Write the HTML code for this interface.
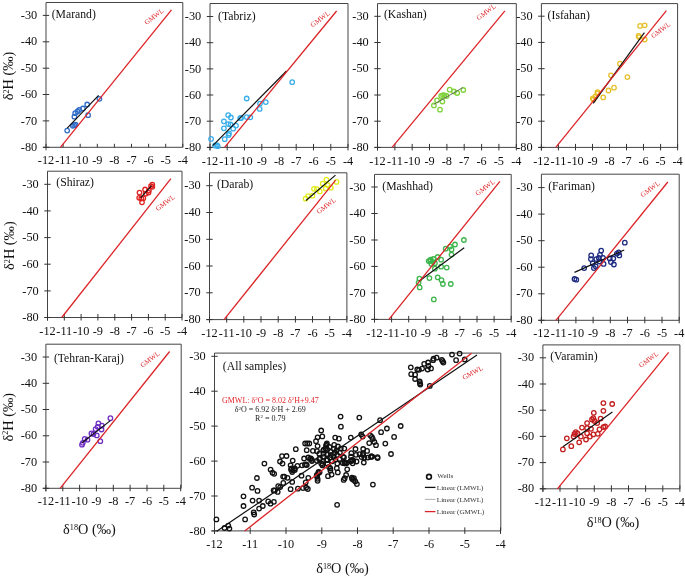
<!DOCTYPE html>
<html><head><meta charset="utf-8"><style>
html,body{margin:0;padding:0;background:#fff;}
svg{display:block;will-change:transform;}
text{font-family:"Liberation Serif", serif;}
.t{font-size:12.3px;fill:#111;}
.tt{font-size:11.7px;fill:#111;}
.g{font-size:7px;fill:#dc2428;}
.ax{font-size:14.3px;fill:#111;}
.e{font-size:8px;fill:#222;}
.r{fill:#e3262b;}
.l{font-size:7.1px;fill:#333;}
.a{fill:none;stroke:#444;stroke-width:1;}
.k{fill:none;stroke:#333;stroke-width:1;}
</style></head><body>
<svg width="685" height="578" viewBox="0 0 685 578">
<path d="M46,2.5H182.8V147.3M46,2.5V150.3M43,147.3H182.8" class="a"/>
<path d="M42.8,15.4H49.2M42.8,41.8H49.2M42.8,68.2H49.2M42.8,94.5H49.2M42.8,120.9H49.2M42.8,147.3H49.2M46,143.8V147.3M63.1,143.8V147.3M80.2,143.8V147.3M97.3,143.8V147.3M114.4,143.8V147.3M131.5,143.8V147.3M148.6,143.8V147.3M165.7,143.8V147.3M182.8,143.8V147.3" class="k"/>
<text x="37.2" y="19" text-anchor="end" class="t">-30</text>
<text x="37.2" y="45.4" text-anchor="end" class="t">-40</text>
<text x="37.2" y="71.8" text-anchor="end" class="t">-50</text>
<text x="37.2" y="98.1" text-anchor="end" class="t">-60</text>
<text x="37.2" y="124.5" text-anchor="end" class="t">-70</text>
<text x="37.2" y="150.9" text-anchor="end" class="t">-80</text>
<text x="46" y="164.4" text-anchor="middle" class="t">-12</text>
<text x="63.1" y="164.4" text-anchor="middle" class="t">-11</text>
<text x="80.2" y="164.4" text-anchor="middle" class="t">-10</text>
<text x="97.3" y="164.4" text-anchor="middle" class="t">-9</text>
<text x="114.4" y="164.4" text-anchor="middle" class="t">-8</text>
<text x="131.5" y="164.4" text-anchor="middle" class="t">-7</text>
<text x="148.6" y="164.4" text-anchor="middle" class="t">-6</text>
<text x="165.7" y="164.4" text-anchor="middle" class="t">-5</text>
<text x="182.8" y="164.4" text-anchor="middle" class="t">-4</text>
<text x="51.7" y="18.1" class="tt">(Marand)</text>
<path d="M210,3.5H348V147.4M210,3.5V150.4M207,147.4H348" class="a"/>
<path d="M206.8,16.5H213.2M206.8,42.7H213.2M206.8,68.9H213.2M206.8,95H213.2M206.8,121.2H213.2M206.8,147.4H213.2M210,143.9V150.4M227.2,143.9V150.4M244.5,143.9V150.4M261.8,143.9V150.4M279,143.9V150.4M296.2,143.9V150.4M313.5,143.9V150.4M330.8,143.9V150.4M348,143.9V150.4" class="k"/>
<text x="201.2" y="20.1" text-anchor="end" class="t">-30</text>
<text x="201.2" y="46.3" text-anchor="end" class="t">-40</text>
<text x="201.2" y="72.5" text-anchor="end" class="t">-50</text>
<text x="201.2" y="98.6" text-anchor="end" class="t">-60</text>
<text x="201.2" y="124.8" text-anchor="end" class="t">-70</text>
<text x="201.2" y="151" text-anchor="end" class="t">-80</text>
<text x="210" y="164.5" text-anchor="middle" class="t">-12</text>
<text x="227.2" y="164.5" text-anchor="middle" class="t">-11</text>
<text x="244.5" y="164.5" text-anchor="middle" class="t">-10</text>
<text x="261.8" y="164.5" text-anchor="middle" class="t">-9</text>
<text x="279" y="164.5" text-anchor="middle" class="t">-8</text>
<text x="296.2" y="164.5" text-anchor="middle" class="t">-7</text>
<text x="313.5" y="164.5" text-anchor="middle" class="t">-6</text>
<text x="330.8" y="164.5" text-anchor="middle" class="t">-5</text>
<text x="348" y="164.5" text-anchor="middle" class="t">-4</text>
<text x="218.1" y="20.0" class="tt">(Tabriz)</text>
<path d="M377.5,3.6H516.3V147.4M377.5,3.6V150.4M374.5,147.4H516.3" class="a"/>
<path d="M374.3,16.3H380.7M374.3,42.5H380.7M374.3,68.7H380.7M374.3,95H380.7M374.3,121.2H380.7M374.3,147.4H380.7M377.5,143.9V150.4M394.9,143.9V150.4M412.2,143.9V150.4M429.5,143.9V150.4M446.9,143.9V150.4M464.2,143.9V150.4M481.6,143.9V150.4M498.9,143.9V150.4M516.3,143.9V150.4" class="k"/>
<text x="368.7" y="19.9" text-anchor="end" class="t">-30</text>
<text x="368.7" y="46.1" text-anchor="end" class="t">-40</text>
<text x="368.7" y="72.3" text-anchor="end" class="t">-50</text>
<text x="368.7" y="98.6" text-anchor="end" class="t">-60</text>
<text x="368.7" y="124.8" text-anchor="end" class="t">-70</text>
<text x="368.7" y="151" text-anchor="end" class="t">-80</text>
<text x="377.5" y="164.5" text-anchor="middle" class="t">-12</text>
<text x="394.9" y="164.5" text-anchor="middle" class="t">-11</text>
<text x="412.2" y="164.5" text-anchor="middle" class="t">-10</text>
<text x="429.5" y="164.5" text-anchor="middle" class="t">-9</text>
<text x="446.9" y="164.5" text-anchor="middle" class="t">-8</text>
<text x="464.2" y="164.5" text-anchor="middle" class="t">-7</text>
<text x="481.6" y="164.5" text-anchor="middle" class="t">-6</text>
<text x="498.9" y="164.5" text-anchor="middle" class="t">-5</text>
<text x="516.3" y="164.5" text-anchor="middle" class="t">-4</text>
<text x="383.9" y="18.3" class="tt">(Kashan)</text>
<path d="M541.4,3.6H677.6V147.4M541.4,3.6V150.4M538.4,147.4H677.6" class="a"/>
<path d="M538.2,16.2H544.6M538.2,42.4H544.6M538.2,68.7H544.6M538.2,94.9H544.6M538.2,121.2H544.6M538.2,147.4H544.6M541.4,143.9V150.4M558.4,143.9V150.4M575.5,143.9V150.4M592.5,143.9V150.4M609.5,143.9V150.4M626.5,143.9V150.4M643.5,143.9V150.4M660.6,143.9V150.4M677.6,143.9V150.4" class="k"/>
<text x="532.6" y="19.8" text-anchor="end" class="t">-30</text>
<text x="532.6" y="46" text-anchor="end" class="t">-40</text>
<text x="532.6" y="72.3" text-anchor="end" class="t">-50</text>
<text x="532.6" y="98.5" text-anchor="end" class="t">-60</text>
<text x="532.6" y="124.8" text-anchor="end" class="t">-70</text>
<text x="532.6" y="151" text-anchor="end" class="t">-80</text>
<text x="541.4" y="164.5" text-anchor="middle" class="t">-12</text>
<text x="558.4" y="164.5" text-anchor="middle" class="t">-11</text>
<text x="575.5" y="164.5" text-anchor="middle" class="t">-10</text>
<text x="592.5" y="164.5" text-anchor="middle" class="t">-9</text>
<text x="609.5" y="164.5" text-anchor="middle" class="t">-8</text>
<text x="626.5" y="164.5" text-anchor="middle" class="t">-7</text>
<text x="643.5" y="164.5" text-anchor="middle" class="t">-6</text>
<text x="660.6" y="164.5" text-anchor="middle" class="t">-5</text>
<text x="677.6" y="164.5" text-anchor="middle" class="t">-4</text>
<text x="547.6" y="19.1" class="tt">(Isfahan)</text>
<path d="M47.5,171.2H182V317.5M47.5,171.2V320.5M44.5,317.5H182" class="a"/>
<path d="M44.3,184.3H50.7M44.3,210.9H50.7M44.3,237.6H50.7M44.3,264.2H50.7M44.3,290.9H50.7M44.3,317.5H50.7M47.5,314V320.5M64.3,314V320.5M81.1,314V320.5M97.9,314V320.5M114.8,314V320.5M131.6,314V320.5M148.4,314V320.5M165.2,314V320.5M182,314V320.5" class="k"/>
<text x="38.7" y="187.9" text-anchor="end" class="t">-30</text>
<text x="38.7" y="214.5" text-anchor="end" class="t">-40</text>
<text x="38.7" y="241.2" text-anchor="end" class="t">-50</text>
<text x="38.7" y="267.8" text-anchor="end" class="t">-60</text>
<text x="38.7" y="294.5" text-anchor="end" class="t">-70</text>
<text x="38.7" y="321.1" text-anchor="end" class="t">-80</text>
<text x="47.5" y="334.6" text-anchor="middle" class="t">-12</text>
<text x="64.3" y="334.6" text-anchor="middle" class="t">-11</text>
<text x="81.1" y="334.6" text-anchor="middle" class="t">-10</text>
<text x="97.9" y="334.6" text-anchor="middle" class="t">-9</text>
<text x="114.8" y="334.6" text-anchor="middle" class="t">-8</text>
<text x="131.6" y="334.6" text-anchor="middle" class="t">-7</text>
<text x="148.4" y="334.6" text-anchor="middle" class="t">-6</text>
<text x="165.2" y="334.6" text-anchor="middle" class="t">-5</text>
<text x="182" y="334.6" text-anchor="middle" class="t">-4</text>
<text x="56.3" y="186.3" class="tt">(Shiraz)</text>
<path d="M209.5,172.8H346.9V319.6M209.5,172.8V322.6M206.5,319.6H346.9" class="a"/>
<path d="M206.3,185.7H212.7M206.3,212.5H212.7M206.3,239.3H212.7M206.3,266H212.7M206.3,292.8H212.7M206.3,319.6H212.7M209.5,316.1V322.6M226.7,316.1V322.6M243.8,316.1V322.6M261,316.1V322.6M278.2,316.1V322.6M295.4,316.1V322.6M312.5,316.1V322.6M329.7,316.1V322.6M346.9,316.1V322.6" class="k"/>
<text x="200.7" y="189.3" text-anchor="end" class="t">-30</text>
<text x="200.7" y="216.1" text-anchor="end" class="t">-40</text>
<text x="200.7" y="242.9" text-anchor="end" class="t">-50</text>
<text x="200.7" y="269.6" text-anchor="end" class="t">-60</text>
<text x="200.7" y="296.4" text-anchor="end" class="t">-70</text>
<text x="200.7" y="323.2" text-anchor="end" class="t">-80</text>
<text x="209.5" y="336.7" text-anchor="middle" class="t">-12</text>
<text x="226.7" y="336.7" text-anchor="middle" class="t">-11</text>
<text x="243.8" y="336.7" text-anchor="middle" class="t">-10</text>
<text x="261" y="336.7" text-anchor="middle" class="t">-9</text>
<text x="278.2" y="336.7" text-anchor="middle" class="t">-8</text>
<text x="295.4" y="336.7" text-anchor="middle" class="t">-7</text>
<text x="312.5" y="336.7" text-anchor="middle" class="t">-6</text>
<text x="329.7" y="336.7" text-anchor="middle" class="t">-5</text>
<text x="346.9" y="336.7" text-anchor="middle" class="t">-4</text>
<text x="216.9" y="188.3" class="tt">(Darab)</text>
<path d="M374.5,174.4H511.2V319.4M374.5,174.4V322.4M371.5,319.4H511.2" class="a"/>
<path d="M371.3,187H377.7M371.3,213.5H377.7M371.3,240H377.7M371.3,266.4H377.7M371.3,292.9H377.7M371.3,319.4H377.7M374.5,315.9V322.4M391.6,315.9V322.4M408.7,315.9V322.4M425.8,315.9V322.4M442.9,315.9V322.4M459.9,315.9V322.4M477,315.9V322.4M494.1,315.9V322.4M511.2,315.9V322.4" class="k"/>
<text x="365.7" y="190.6" text-anchor="end" class="t">-30</text>
<text x="365.7" y="217.1" text-anchor="end" class="t">-40</text>
<text x="365.7" y="243.6" text-anchor="end" class="t">-50</text>
<text x="365.7" y="270" text-anchor="end" class="t">-60</text>
<text x="365.7" y="296.5" text-anchor="end" class="t">-70</text>
<text x="365.7" y="323" text-anchor="end" class="t">-80</text>
<text x="374.5" y="336.5" text-anchor="middle" class="t">-12</text>
<text x="391.6" y="336.5" text-anchor="middle" class="t">-11</text>
<text x="408.7" y="336.5" text-anchor="middle" class="t">-10</text>
<text x="425.8" y="336.5" text-anchor="middle" class="t">-9</text>
<text x="442.9" y="336.5" text-anchor="middle" class="t">-8</text>
<text x="459.9" y="336.5" text-anchor="middle" class="t">-7</text>
<text x="477" y="336.5" text-anchor="middle" class="t">-6</text>
<text x="494.1" y="336.5" text-anchor="middle" class="t">-5</text>
<text x="511.2" y="336.5" text-anchor="middle" class="t">-4</text>
<text x="382.3" y="189.7" class="tt">(Mashhad)</text>
<path d="M541.4,174.2H679.2V320.3M541.4,174.2V323.3M538.4,320.3H679.2" class="a"/>
<path d="M538.2,187.6H544.6M538.2,214.1H544.6M538.2,240.7H544.6M538.2,267.2H544.6M538.2,293.8H544.6M538.2,320.3H544.6M541.4,316.8V323.3M558.6,316.8V323.3M575.9,316.8V323.3M593.1,316.8V323.3M610.3,316.8V323.3M627.5,316.8V323.3M644.8,316.8V323.3M662,316.8V323.3M679.2,316.8V323.3" class="k"/>
<text x="532.6" y="191.2" text-anchor="end" class="t">-30</text>
<text x="532.6" y="217.7" text-anchor="end" class="t">-40</text>
<text x="532.6" y="244.3" text-anchor="end" class="t">-50</text>
<text x="532.6" y="270.8" text-anchor="end" class="t">-60</text>
<text x="532.6" y="297.4" text-anchor="end" class="t">-70</text>
<text x="532.6" y="323.9" text-anchor="end" class="t">-80</text>
<text x="541.4" y="337.4" text-anchor="middle" class="t">-12</text>
<text x="558.6" y="337.4" text-anchor="middle" class="t">-11</text>
<text x="575.9" y="337.4" text-anchor="middle" class="t">-10</text>
<text x="593.1" y="337.4" text-anchor="middle" class="t">-9</text>
<text x="610.3" y="337.4" text-anchor="middle" class="t">-8</text>
<text x="627.5" y="337.4" text-anchor="middle" class="t">-7</text>
<text x="644.8" y="337.4" text-anchor="middle" class="t">-6</text>
<text x="662" y="337.4" text-anchor="middle" class="t">-5</text>
<text x="679.2" y="337.4" text-anchor="middle" class="t">-4</text>
<text x="548.2" y="189.7" class="tt">(Fariman)</text>
<path d="M45.9,344.2H181.2V488.3M45.9,344.2V491.3M42.9,488.3H181.2" class="a"/>
<path d="M42.7,357H49.1M42.7,383.3H49.1M42.7,409.5H49.1M42.7,435.8H49.1M42.7,462H49.1M42.7,488.3H49.1M45.9,484.8V491.3M62.8,484.8V491.3M79.6,484.8V491.3M96.4,484.8V491.3M113.3,484.8V491.3M130.1,484.8V491.3M147,484.8V491.3M163.8,484.8V491.3M180.7,484.8V491.3" class="k"/>
<text x="37.1" y="360.6" text-anchor="end" class="t">-30</text>
<text x="37.1" y="386.9" text-anchor="end" class="t">-40</text>
<text x="37.1" y="413.1" text-anchor="end" class="t">-50</text>
<text x="37.1" y="439.4" text-anchor="end" class="t">-60</text>
<text x="37.1" y="465.6" text-anchor="end" class="t">-70</text>
<text x="37.1" y="491.9" text-anchor="end" class="t">-80</text>
<text x="45.9" y="505.4" text-anchor="middle" class="t">-12</text>
<text x="62.8" y="505.4" text-anchor="middle" class="t">-11</text>
<text x="79.6" y="505.4" text-anchor="middle" class="t">-10</text>
<text x="96.4" y="505.4" text-anchor="middle" class="t">-9</text>
<text x="113.3" y="505.4" text-anchor="middle" class="t">-8</text>
<text x="130.1" y="505.4" text-anchor="middle" class="t">-7</text>
<text x="147" y="505.4" text-anchor="middle" class="t">-6</text>
<text x="163.8" y="505.4" text-anchor="middle" class="t">-5</text>
<text x="180.7" y="505.4" text-anchor="middle" class="t">-4</text>
<text x="53.9" y="361.7" class="tt">(Tehran-Karaj)</text>
<path d="M214.5,353.1H500.8V530.9M214.5,353.1V533.9M211.5,530.9H500.8" class="a"/>
<path d="M211.3,356.3H217.7M211.3,391.2H217.7M211.3,426.1H217.7M211.3,461.1H217.7M211.3,496H217.7M211.3,530.9H217.7M214.5,527.4V533.9M250.2,527.4V533.9M286,527.4V533.9M321.8,527.4V533.9M357.5,527.4V533.9M393.2,527.4V533.9M429,527.4V533.9M464.8,527.4V533.9M500.5,527.4V533.9" class="k"/>
<text x="205.7" y="359.9" text-anchor="end" class="t">-30</text>
<text x="205.7" y="394.8" text-anchor="end" class="t">-40</text>
<text x="205.7" y="429.7" text-anchor="end" class="t">-50</text>
<text x="205.7" y="464.7" text-anchor="end" class="t">-60</text>
<text x="205.7" y="499.6" text-anchor="end" class="t">-70</text>
<text x="205.7" y="534.5" text-anchor="end" class="t">-80</text>
<text x="214.5" y="548" text-anchor="middle" class="t">-12</text>
<text x="250.2" y="548" text-anchor="middle" class="t">-11</text>
<text x="286" y="548" text-anchor="middle" class="t">-10</text>
<text x="321.8" y="548" text-anchor="middle" class="t">-9</text>
<text x="357.5" y="548" text-anchor="middle" class="t">-8</text>
<text x="393.2" y="548" text-anchor="middle" class="t">-7</text>
<text x="429" y="548" text-anchor="middle" class="t">-6</text>
<text x="464.8" y="548" text-anchor="middle" class="t">-5</text>
<text x="500.5" y="548" text-anchor="middle" class="t">-4</text>
<text x="222.8" y="370.3" class="tt">(All samples)</text>
<path d="M542.9,344.9H679.9V488.8M542.9,344.9V491.8M539.9,488.8H679.9" class="a"/>
<path d="M539.7,357.8H546.1M539.7,384H546.1M539.7,410.2H546.1M539.7,436.4H546.1M539.7,462.6H546.1M539.7,488.8H546.1M542.9,485.3V491.8M560,485.3V491.8M577.1,485.3V491.8M594.3,485.3V491.8M611.4,485.3V491.8M628.5,485.3V491.8M645.6,485.3V491.8M662.8,485.3V491.8M679.9,485.3V491.8" class="k"/>
<text x="534.1" y="361.4" text-anchor="end" class="t">-30</text>
<text x="534.1" y="387.6" text-anchor="end" class="t">-40</text>
<text x="534.1" y="413.8" text-anchor="end" class="t">-50</text>
<text x="534.1" y="440" text-anchor="end" class="t">-60</text>
<text x="534.1" y="466.2" text-anchor="end" class="t">-70</text>
<text x="534.1" y="492.4" text-anchor="end" class="t">-80</text>
<text x="542.9" y="505.9" text-anchor="middle" class="t">-12</text>
<text x="560" y="505.9" text-anchor="middle" class="t">-11</text>
<text x="577.1" y="505.9" text-anchor="middle" class="t">-10</text>
<text x="594.3" y="505.9" text-anchor="middle" class="t">-9</text>
<text x="611.4" y="505.9" text-anchor="middle" class="t">-8</text>
<text x="628.5" y="505.9" text-anchor="middle" class="t">-7</text>
<text x="645.6" y="505.9" text-anchor="middle" class="t">-6</text>
<text x="662.8" y="505.9" text-anchor="middle" class="t">-5</text>
<text x="679.9" y="505.9" text-anchor="middle" class="t">-4</text>
<text x="550.2" y="359.8" class="tt">(Varamin)</text>
<g fill="none" stroke="#2f6cc8" stroke-width="1.3"><circle cx="67.2" cy="130.6" r="2.25"/><circle cx="72.8" cy="125.8" r="2.25"/><circle cx="74.2" cy="125.2" r="2.25"/><circle cx="75.6" cy="124.6" r="2.25"/><circle cx="74.4" cy="116.7" r="2.25"/><circle cx="75.2" cy="113.2" r="2.25"/><circle cx="77.5" cy="111.5" r="2.25"/><circle cx="79.2" cy="110" r="2.25"/><circle cx="82.9" cy="108.5" r="2.25"/><circle cx="87.2" cy="104.5" r="2.25"/><circle cx="88.1" cy="115.2" r="2.25"/><circle cx="99.4" cy="98.8" r="2.25"/></g>
<g fill="none" stroke="#3aaeea" stroke-width="1.3"><circle cx="211.1" cy="138.9" r="2.25"/><circle cx="215" cy="145.5" r="2.25"/><circle cx="216.9" cy="145.1" r="2.25"/><circle cx="217.7" cy="146.2" r="2.25"/><circle cx="224.7" cy="139.2" r="2.25"/><circle cx="228.6" cy="135" r="2.25"/><circle cx="229" cy="133.4" r="2.25"/><circle cx="223.9" cy="128.3" r="2.25"/><circle cx="223.9" cy="121.3" r="2.25"/><circle cx="228.2" cy="115.1" r="2.25"/><circle cx="230.9" cy="117.5" r="2.25"/><circle cx="228.2" cy="124.1" r="2.25"/><circle cx="230.5" cy="124.5" r="2.25"/><circle cx="233.2" cy="128.7" r="2.25"/><circle cx="236" cy="125.6" r="2.25"/><circle cx="240.2" cy="118.2" r="2.25"/><circle cx="241.1" cy="117.9" r="2.25"/><circle cx="246.7" cy="117.1" r="2.25"/><circle cx="250.3" cy="117.3" r="2.25"/><circle cx="246.7" cy="98.5" r="2.25"/><circle cx="260" cy="103.6" r="2.25"/><circle cx="259.7" cy="108.9" r="2.25"/><circle cx="265.8" cy="102.1" r="2.25"/><circle cx="292.2" cy="82.2" r="2.25"/></g>
<g fill="none" stroke="#7fd23a" stroke-width="1.3"><circle cx="433.9" cy="105.4" r="2.25"/><circle cx="440" cy="109.7" r="2.25"/><circle cx="437" cy="100.3" r="2.25"/><circle cx="442.4" cy="101.5" r="2.25"/><circle cx="441.2" cy="96" r="2.25"/><circle cx="443" cy="95.1" r="2.25"/><circle cx="444.5" cy="95.4" r="2.25"/><circle cx="446.6" cy="96" r="2.25"/><circle cx="449.7" cy="89.7" r="2.25"/><circle cx="453.9" cy="91.5" r="2.25"/><circle cx="457.2" cy="93" r="2.25"/><circle cx="463.3" cy="90" r="2.25"/></g>
<g fill="none" stroke="#e6c02a" stroke-width="1.3"><circle cx="640.1" cy="25.9" r="2.25"/><circle cx="644.7" cy="25.3" r="2.25"/><circle cx="638.6" cy="35.9" r="2.25"/><circle cx="639.2" cy="37.1" r="2.25"/><circle cx="644.7" cy="39.5" r="2.25"/><circle cx="620" cy="63.7" r="2.25"/><circle cx="611" cy="75.3" r="2.25"/><circle cx="627.4" cy="77.1" r="2.25"/><circle cx="614" cy="87.7" r="2.25"/><circle cx="608.5" cy="90.5" r="2.25"/><circle cx="597.5" cy="92.2" r="2.25"/><circle cx="603.2" cy="97.4" r="2.25"/><circle cx="592.8" cy="98.3" r="2.25"/><circle cx="595.4" cy="96.5" r="2.25"/><circle cx="597.5" cy="93.5" r="2.25"/><circle cx="593.5" cy="99.5" r="2.25"/></g>
<g fill="none" stroke="#e02222" stroke-width="1.3"><circle cx="139.5" cy="192.6" r="2.25"/><circle cx="139.2" cy="197.8" r="2.25"/><circle cx="142" cy="202.3" r="2.25"/><circle cx="141.3" cy="198.5" r="2.25"/><circle cx="143.3" cy="198.2" r="2.25"/><circle cx="145.8" cy="193.7" r="2.25"/><circle cx="145.1" cy="189.5" r="2.25"/><circle cx="148.5" cy="192.6" r="2.25"/><circle cx="148.9" cy="190.6" r="2.25"/><circle cx="151" cy="186.1" r="2.25"/><circle cx="152.3" cy="184.7" r="2.25"/><circle cx="152.3" cy="186.8" r="2.25"/></g>
<g fill="none" stroke="#e2ec1a" stroke-width="1.3"><circle cx="305.6" cy="198.7" r="2.25"/><circle cx="308.1" cy="196.1" r="2.25"/><circle cx="312.5" cy="195.7" r="2.25"/><circle cx="314" cy="188.8" r="2.25"/><circle cx="316.9" cy="189.2" r="2.25"/><circle cx="319.8" cy="191.4" r="2.25"/><circle cx="322.7" cy="183.7" r="2.25"/><circle cx="326.4" cy="179.7" r="2.25"/><circle cx="325.7" cy="188.4" r="2.25"/><circle cx="327.8" cy="185.2" r="2.25"/><circle cx="330.8" cy="187.7" r="2.25"/><circle cx="336.6" cy="181.9" r="2.25"/></g>
<g fill="none" stroke="#3cb54a" stroke-width="1.3"><circle cx="463.9" cy="240" r="2.25"/><circle cx="455" cy="244.5" r="2.25"/><circle cx="450.1" cy="246.6" r="2.25"/><circle cx="445.7" cy="248.7" r="2.25"/><circle cx="451.5" cy="249.4" r="2.25"/><circle cx="451.5" cy="254.6" r="2.25"/><circle cx="437.7" cy="257" r="2.25"/><circle cx="441.1" cy="259.7" r="2.25"/><circle cx="430.1" cy="260.4" r="2.25"/><circle cx="428.7" cy="261.1" r="2.25"/><circle cx="430.7" cy="259.7" r="2.25"/><circle cx="432.8" cy="261.8" r="2.25"/><circle cx="431.4" cy="263.9" r="2.25"/><circle cx="434.9" cy="263.2" r="2.25"/><circle cx="433.5" cy="259" r="2.25"/><circle cx="441.1" cy="266.7" r="2.25"/><circle cx="434.9" cy="268.7" r="2.25"/><circle cx="446.7" cy="267.6" r="2.25"/><circle cx="419.4" cy="278.7" r="2.25"/><circle cx="418.6" cy="282.6" r="2.25"/><circle cx="419.7" cy="287.4" r="2.25"/><circle cx="429.4" cy="278.1" r="2.25"/><circle cx="437.7" cy="277.3" r="2.25"/><circle cx="441.5" cy="280.1" r="2.25"/><circle cx="442.9" cy="284" r="2.25"/><circle cx="450.8" cy="284" r="2.25"/><circle cx="433.8" cy="299.4" r="2.25"/></g>
<g fill="none" stroke="#1c2a80" stroke-width="1.3"><circle cx="574.5" cy="279" r="2.25"/><circle cx="576.3" cy="279.7" r="2.25"/><circle cx="584.2" cy="268.1" r="2.25"/><circle cx="591.2" cy="255.4" r="2.25"/><circle cx="590.9" cy="259.1" r="2.25"/><circle cx="592.7" cy="263.3" r="2.25"/><circle cx="593.9" cy="268.1" r="2.25"/><circle cx="595.7" cy="266.3" r="2.25"/><circle cx="596.3" cy="259.1" r="2.25"/><circle cx="598.8" cy="257.9" r="2.25"/><circle cx="601.2" cy="250.6" r="2.25"/><circle cx="600" cy="254.8" r="2.25"/><circle cx="603" cy="257.9" r="2.25"/><circle cx="603.6" cy="263.9" r="2.25"/><circle cx="599.4" cy="261.5" r="2.25"/><circle cx="609.7" cy="258.5" r="2.25"/><circle cx="610.9" cy="262.1" r="2.25"/><circle cx="613.3" cy="258.5" r="2.25"/><circle cx="613.9" cy="264.5" r="2.25"/><circle cx="616.9" cy="253.6" r="2.25"/><circle cx="619.3" cy="255.4" r="2.25"/><circle cx="618.7" cy="252.4" r="2.25"/><circle cx="624.8" cy="242.7" r="2.25"/></g>
<g fill="none" stroke="#6d2fc2" stroke-width="1.3"><circle cx="110.4" cy="418.2" r="2.25"/><circle cx="98.4" cy="423.3" r="2.25"/><circle cx="101.9" cy="425.6" r="2.25"/><circle cx="97.6" cy="426.8" r="2.25"/><circle cx="95.6" cy="429.1" r="2.25"/><circle cx="101.5" cy="429.5" r="2.25"/><circle cx="91.4" cy="433.4" r="2.25"/><circle cx="96.8" cy="435.4" r="2.25"/><circle cx="93.5" cy="434" r="2.25"/><circle cx="84.7" cy="438.9" r="2.25"/><circle cx="87.5" cy="439.7" r="2.25"/><circle cx="82.8" cy="442.8" r="2.25"/><circle cx="82" cy="444.7" r="2.25"/><circle cx="100.3" cy="441.2" r="2.25"/></g>
<g fill="none" stroke="#c41f1f" stroke-width="1.3"><circle cx="603.4" cy="403.1" r="2.25"/><circle cx="612.2" cy="404" r="2.25"/><circle cx="603.4" cy="410.8" r="2.25"/><circle cx="593.8" cy="412.8" r="2.25"/><circle cx="593.3" cy="418.1" r="2.25"/><circle cx="592" cy="419.5" r="2.25"/><circle cx="600.6" cy="418.6" r="2.25"/><circle cx="594.5" cy="421" r="2.25"/><circle cx="597.2" cy="423.1" r="2.25"/><circle cx="587.1" cy="423.1" r="2.25"/><circle cx="582" cy="427.6" r="2.25"/><circle cx="587.1" cy="428.2" r="2.25"/><circle cx="591" cy="428.8" r="2.25"/><circle cx="575.8" cy="432.1" r="2.25"/><circle cx="577.5" cy="433.3" r="2.25"/><circle cx="574.5" cy="434" r="2.25"/><circle cx="587.1" cy="433.3" r="2.25"/><circle cx="599.5" cy="429.3" r="2.25"/><circle cx="603.4" cy="427.1" r="2.25"/><circle cx="605.1" cy="426.5" r="2.25"/><circle cx="593.3" cy="434.4" r="2.25"/><circle cx="597.8" cy="433.8" r="2.25"/><circle cx="589.9" cy="436.6" r="2.25"/><circle cx="580.9" cy="436.6" r="2.25"/><circle cx="573.6" cy="436.6" r="2.25"/><circle cx="566.8" cy="438.3" r="2.25"/><circle cx="586" cy="439.5" r="2.25"/><circle cx="579.2" cy="442.3" r="2.25"/><circle cx="571.3" cy="446.2" r="2.25"/><circle cx="562.9" cy="449.4" r="2.25"/></g>
<line x1="67.2" y1="128.2" x2="98.6" y2="95.4" stroke="#111" stroke-width="1.2"/>
<line x1="212.8" y1="145.6" x2="286.5" y2="71" stroke="#111" stroke-width="1.2"/>
<line x1="433.6" y1="104.5" x2="462.7" y2="87.6" stroke="#555" stroke-width="0.8"/>
<line x1="593.2" y1="103.4" x2="644.4" y2="32.6" stroke="#111" stroke-width="1.2"/>
<line x1="140.6" y1="197.8" x2="151.6" y2="185.7" stroke="#111" stroke-width="1.2"/>
<line x1="306" y1="200.5" x2="335.5" y2="175.1" stroke="#111" stroke-width="1.2"/>
<line x1="419" y1="281.2" x2="464.2" y2="247.7" stroke="#111" stroke-width="1.2"/>
<line x1="574.5" y1="272.4" x2="624.2" y2="250" stroke="#111" stroke-width="1.2"/>
<line x1="82" y1="442.8" x2="110.4" y2="420.6" stroke="#111" stroke-width="1.2"/>
<line x1="562.9" y1="446.8" x2="612.4" y2="412.1" stroke="#111" stroke-width="1.2"/>
<g fill="none" stroke="#111" stroke-width="1.3"><circle cx="452" cy="354.6" r="2.25"/><circle cx="459.6" cy="353.6" r="2.25"/><circle cx="456.1" cy="360.2" r="2.25"/><circle cx="464.7" cy="359.4" r="2.25"/><circle cx="433.6" cy="358.7" r="2.25"/><circle cx="436.6" cy="357.7" r="2.25"/><circle cx="433.1" cy="360.2" r="2.25"/><circle cx="441.8" cy="359.8" r="2.25"/><circle cx="442.6" cy="361.2" r="2.25"/><circle cx="443.4" cy="362.6" r="2.25"/><circle cx="431" cy="368.4" r="2.25"/><circle cx="429.8" cy="385.9" r="2.25"/><circle cx="410.8" cy="367.3" r="2.25"/><circle cx="411.2" cy="374.2" r="2.25"/><circle cx="415.1" cy="374.7" r="2.25"/><circle cx="415.1" cy="379" r="2.25"/><circle cx="419.7" cy="381.5" r="2.25"/><circle cx="419.9" cy="383.2" r="2.25"/><circle cx="420.3" cy="384.6" r="2.25"/><circle cx="417.3" cy="369.5" r="2.25"/><circle cx="419" cy="369.8" r="2.25"/><circle cx="422.1" cy="368.6" r="2.25"/><circle cx="424.2" cy="363.8" r="2.25"/><circle cx="428.1" cy="362.5" r="2.25"/><circle cx="428.5" cy="366" r="2.25"/><circle cx="427.7" cy="369.5" r="2.25"/><circle cx="216.4" cy="519.4" r="2.25"/><circle cx="224.5" cy="528" r="2.25"/><circle cx="228.3" cy="525.6" r="2.25"/><circle cx="229.4" cy="528.6" r="2.25"/><circle cx="245.1" cy="519.4" r="2.25"/><circle cx="243.5" cy="506" r="2.25"/><circle cx="243.5" cy="496.3" r="2.25"/><circle cx="252.6" cy="500.6" r="2.25"/><circle cx="256.9" cy="478" r="2.25"/><circle cx="252.1" cy="487.7" r="2.25"/><circle cx="257.5" cy="490.9" r="2.25"/><circle cx="259.1" cy="500.6" r="2.25"/><circle cx="253.7" cy="512.4" r="2.25"/><circle cx="254.2" cy="514.5" r="2.25"/><circle cx="259.1" cy="508.6" r="2.25"/><circle cx="262.8" cy="506" r="2.25"/><circle cx="268.2" cy="501.4" r="2.25"/><circle cx="270.5" cy="503.7" r="2.25"/><circle cx="273.9" cy="501.8" r="2.25"/><circle cx="273.6" cy="490.4" r="2.25"/><circle cx="272.5" cy="472.7" r="2.25"/><circle cx="264.4" cy="463.6" r="2.25"/><circle cx="270.6" cy="469.6" r="2.25"/><circle cx="274.2" cy="473.8" r="2.25"/><circle cx="282" cy="456.1" r="2.25"/><circle cx="280" cy="461.5" r="2.25"/><circle cx="282.5" cy="463.6" r="2.25"/><circle cx="283.1" cy="476.6" r="2.25"/><circle cx="321.2" cy="430.5" r="2.25"/><circle cx="317.6" cy="437.3" r="2.25"/><circle cx="322.3" cy="436.4" r="2.25"/><circle cx="316" cy="441.2" r="2.25"/><circle cx="317.6" cy="446.1" r="2.25"/><circle cx="305.1" cy="443.5" r="2.25"/><circle cx="307.2" cy="443.5" r="2.25"/><circle cx="309.3" cy="443.5" r="2.25"/><circle cx="295.8" cy="449.2" r="2.25"/><circle cx="306.7" cy="450.2" r="2.25"/><circle cx="312.9" cy="450.8" r="2.25"/><circle cx="286.5" cy="456" r="2.25"/><circle cx="292.7" cy="460.6" r="2.25"/><circle cx="290.6" cy="465.3" r="2.25"/><circle cx="291.6" cy="468.4" r="2.25"/><circle cx="294.8" cy="470" r="2.25"/><circle cx="292.2" cy="472" r="2.25"/><circle cx="297.4" cy="465.8" r="2.25"/><circle cx="302" cy="465.3" r="2.25"/><circle cx="304.1" cy="458.5" r="2.25"/><circle cx="306.2" cy="464.3" r="2.25"/><circle cx="308.3" cy="457.5" r="2.25"/><circle cx="310.9" cy="458.5" r="2.25"/><circle cx="311.9" cy="461.1" r="2.25"/><circle cx="284.4" cy="476.7" r="2.25"/><circle cx="287.5" cy="477.8" r="2.25"/><circle cx="292.2" cy="481.9" r="2.25"/><circle cx="301.5" cy="475.7" r="2.25"/><circle cx="283.3" cy="482.9" r="2.25"/><circle cx="278.2" cy="486.1" r="2.25"/><circle cx="280.2" cy="487.1" r="2.25"/><circle cx="308.3" cy="477.8" r="2.25"/><circle cx="305.7" cy="482.4" r="2.25"/><circle cx="306.2" cy="487.6" r="2.25"/><circle cx="297.9" cy="488.7" r="2.25"/><circle cx="290.6" cy="489.2" r="2.25"/><circle cx="317.6" cy="478.8" r="2.25"/><circle cx="317.6" cy="480.8" r="2.25"/><circle cx="318.6" cy="472" r="2.25"/><circle cx="328" cy="476.2" r="2.25"/><circle cx="331.6" cy="474.6" r="2.25"/><circle cx="277.7" cy="491.9" r="2.25"/><circle cx="274.9" cy="490.4" r="2.25"/><circle cx="291" cy="469.4" r="2.25"/><circle cx="292.9" cy="470.4" r="2.25"/><circle cx="294.8" cy="468.5" r="2.25"/><circle cx="303" cy="488.1" r="2.25"/><circle cx="304.9" cy="464.7" r="2.25"/><circle cx="306.8" cy="465.1" r="2.25"/><circle cx="307.8" cy="489" r="2.25"/><circle cx="310" cy="459" r="2.25"/><circle cx="312" cy="459.9" r="2.25"/><circle cx="316.7" cy="475.2" r="2.25"/><circle cx="319.6" cy="472.3" r="2.25"/><circle cx="340.9" cy="426.7" r="2.25"/><circle cx="335.2" cy="437.6" r="2.25"/><circle cx="338.9" cy="438.7" r="2.25"/><circle cx="350.8" cy="437.6" r="2.25"/><circle cx="361.2" cy="434.5" r="2.25"/><circle cx="362.7" cy="436.6" r="2.25"/><circle cx="326.9" cy="443.3" r="2.25"/><circle cx="334.2" cy="444.9" r="2.25"/><circle cx="351.3" cy="453.2" r="2.25"/><circle cx="355.5" cy="449" r="2.25"/><circle cx="356" cy="454.8" r="2.25"/><circle cx="359.6" cy="454.2" r="2.25"/><circle cx="363.2" cy="449" r="2.25"/><circle cx="363.2" cy="453.2" r="2.25"/><circle cx="351.3" cy="460.5" r="2.25"/><circle cx="356.5" cy="461.5" r="2.25"/><circle cx="363.8" cy="462.5" r="2.25"/><circle cx="345.1" cy="462.5" r="2.25"/><circle cx="344" cy="457.3" r="2.25"/><circle cx="337.3" cy="463.6" r="2.25"/><circle cx="336.8" cy="468.2" r="2.25"/><circle cx="337.8" cy="472.4" r="2.25"/><circle cx="347.2" cy="469.3" r="2.25"/><circle cx="346.1" cy="475" r="2.25"/><circle cx="317.1" cy="476.5" r="2.25"/><circle cx="351.8" cy="477.6" r="2.25"/><circle cx="353.9" cy="478.1" r="2.25"/><circle cx="321.2" cy="463.6" r="2.25"/><circle cx="359.3" cy="417.6" r="2.25"/><circle cx="380.1" cy="420.2" r="2.25"/><circle cx="400.7" cy="426" r="2.25"/><circle cx="386.9" cy="428.5" r="2.25"/><circle cx="381.1" cy="432.2" r="2.25"/><circle cx="394.1" cy="436.9" r="2.25"/><circle cx="370.2" cy="435.3" r="2.25"/><circle cx="371.8" cy="436.9" r="2.25"/><circle cx="372.8" cy="438.9" r="2.25"/><circle cx="369.2" cy="443.1" r="2.25"/><circle cx="374.4" cy="442" r="2.25"/><circle cx="376" cy="445.2" r="2.25"/><circle cx="385.3" cy="443.6" r="2.25"/><circle cx="391" cy="454" r="2.25"/><circle cx="377.5" cy="457.1" r="2.25"/><circle cx="371.3" cy="456.1" r="2.25"/><circle cx="372.3" cy="456.6" r="2.25"/><circle cx="367.1" cy="450.9" r="2.25"/><circle cx="363" cy="455" r="2.25"/><circle cx="364.5" cy="457.6" r="2.25"/><circle cx="351" cy="456.6" r="2.25"/><circle cx="337.1" cy="504.8" r="2.25"/><circle cx="372.9" cy="484.6" r="2.25"/><circle cx="352.2" cy="478.9" r="2.25"/><circle cx="353.7" cy="479.9" r="2.25"/><circle cx="355.3" cy="481.5" r="2.25"/><circle cx="356.9" cy="484.1" r="2.25"/><circle cx="343.7" cy="479.9" r="2.25"/><circle cx="330.4" cy="470.6" r="2.25"/><circle cx="330.4" cy="468.5" r="2.25"/><circle cx="344.4" cy="463.3" r="2.25"/><circle cx="347" cy="462.8" r="2.25"/><circle cx="350.6" cy="461.2" r="2.25"/><circle cx="352.7" cy="463.3" r="2.25"/><circle cx="361.5" cy="457.1" r="2.25"/><circle cx="367.8" cy="457.6" r="2.25"/><circle cx="370.9" cy="457.1" r="2.25"/><circle cx="377.6" cy="458.1" r="2.25"/><circle cx="340.6" cy="416.6" r="2.25"/><circle cx="326" cy="445.9" r="2.25"/><circle cx="325.6" cy="448.6" r="2.25"/><circle cx="323.2" cy="450.6" r="2.25"/><circle cx="323.6" cy="453.7" r="2.25"/><circle cx="324" cy="456.8" r="2.25"/><circle cx="319.3" cy="453.7" r="2.25"/><circle cx="319.7" cy="458.4" r="2.25"/><circle cx="322.5" cy="465.4" r="2.25"/><circle cx="327.1" cy="454.5" r="2.25"/><circle cx="327.5" cy="459.9" r="2.25"/><circle cx="327.5" cy="463.8" r="2.25"/><circle cx="330.2" cy="457.6" r="2.25"/><circle cx="340.8" cy="448.6" r="2.25"/><circle cx="344.3" cy="448.6" r="2.25"/><circle cx="343.1" cy="456.8" r="2.25"/><circle cx="318.2" cy="473.2" r="2.25"/><circle cx="342.7" cy="463" r="2.25"/><circle cx="345.8" cy="463.4" r="2.25"/><circle cx="352.1" cy="459.9" r="2.25"/><circle cx="353.2" cy="460.7" r="2.25"/><circle cx="344.7" cy="478.2" r="2.25"/><circle cx="317" cy="451.2" r="2.25"/><circle cx="319.1" cy="459.2" r="2.25"/><circle cx="326.4" cy="444.7" r="2.25"/><circle cx="323.8" cy="449.6" r="2.25"/><circle cx="327.4" cy="449.6" r="2.25"/><circle cx="326.4" cy="460.2" r="2.25"/><circle cx="322.5" cy="464.1" r="2.25"/><circle cx="333.9" cy="448.6" r="2.25"/><circle cx="330.5" cy="451.9" r="2.25"/><circle cx="334.7" cy="453" r="2.25"/><circle cx="333.6" cy="456.6" r="2.25"/><circle cx="332.1" cy="461.3" r="2.25"/><circle cx="339.9" cy="452.5" r="2.25"/><circle cx="329" cy="467" r="2.25"/><circle cx="317" cy="460.8" r="2.25"/><circle cx="336.5" cy="450.5" r="2.25"/><circle cx="337" cy="455" r="2.25"/><circle cx="335.5" cy="459.5" r="2.25"/><circle cx="339.5" cy="459" r="2.25"/><circle cx="331" cy="455" r="2.25"/><circle cx="338" cy="446.5" r="2.25"/><circle cx="329.5" cy="447" r="2.25"/></g>
<line x1="216.7" y1="531.2" x2="477" y2="355.1" stroke="#111" stroke-width="1.2"/>
<line x1="60.4" y1="147.3" x2="171.5" y2="9.9" stroke="#dc2428" stroke-width="1.3"/>
<text x="146.5" y="25.1" transform="rotate(-37 146.5 25.1)" class="g">GMWL</text>
<line x1="224.6" y1="147.4" x2="336.6" y2="11" stroke="#dc2428" stroke-width="1.3"/>
<text x="312.6" y="27.5" transform="rotate(-37 312.6 27.5)" class="g">GMWL</text>
<line x1="392.1" y1="147.4" x2="504.9" y2="10.8" stroke="#dc2428" stroke-width="1.3"/>
<text x="478.6" y="20.6" transform="rotate(-37 478.6 20.6)" class="g">GMWL</text>
<line x1="555.8" y1="147.4" x2="666.4" y2="10.7" stroke="#dc2428" stroke-width="1.3"/>
<text x="653.2" y="38.5" transform="rotate(-37 653.2 38.5)" class="g">GMWL</text>
<line x1="61.7" y1="317.5" x2="170.9" y2="178.7" stroke="#dc2428" stroke-width="1.3"/>
<text x="157.8" y="211.3" transform="rotate(-37 157.8 211.3)" class="g">GMWL</text>
<line x1="224" y1="319.6" x2="335.6" y2="180.1" stroke="#dc2428" stroke-width="1.3"/>
<text x="318.8" y="214.3" transform="rotate(-37 318.8 214.3)" class="g">GMWL</text>
<line x1="388.9" y1="319.4" x2="499.9" y2="181.4" stroke="#dc2428" stroke-width="1.3"/>
<text x="477.6" y="196.1" transform="rotate(-37 477.6 196.1)" class="g">GMWL</text>
<line x1="555.9" y1="320.3" x2="667.8" y2="182" stroke="#dc2428" stroke-width="1.3"/>
<text x="642.6" y="197.5" transform="rotate(-37 642.6 197.5)" class="g">GMWL</text>
<line x1="60.1" y1="488.3" x2="169.6" y2="351.5" stroke="#dc2428" stroke-width="1.3"/>
<text x="142.4" y="367.8" transform="rotate(-37 142.4 367.8)" class="g">GMWL</text>
<line x1="244.7" y1="530.9" x2="471.6" y2="353.2" stroke="#dc2428" stroke-width="1.3"/>
<text x="463.9" y="379.9" transform="rotate(-28 463.9 379.9)" class="g">GMWL</text>
<line x1="557.4" y1="488.8" x2="668.6" y2="352.3" stroke="#dc2428" stroke-width="1.3"/>
<text x="641.1" y="368.0" transform="rotate(-37 641.1 368.0)" class="g">GMWL</text>
<text x="13.4" y="76" transform="rotate(-90 13.4 76)" text-anchor="middle" class="ax" dx="0">δ<tspan font-size="8.2" dy="-4.6">2</tspan><tspan dy="4.6">H (‰)</tspan></text>
<text x="14.2" y="245.6" transform="rotate(-90 14.2 245.6)" text-anchor="middle" class="ax" dx="0">δ<tspan font-size="8.2" dy="-4.6">2</tspan><tspan dy="4.6">H (‰)</tspan></text>
<text x="12.9" y="417.2" transform="rotate(-90 12.9 417.2)" text-anchor="middle" class="ax" dx="0">δ<tspan font-size="8.2" dy="-4.6">2</tspan><tspan dy="4.6">H (‰)</tspan></text>
<text x="89.4" y="534.3" text-anchor="middle" class="ax">δ<tspan font-size="8.2" dy="-4.6">18</tspan><tspan dy="4.6">O (‰)</tspan></text>
<text x="613" y="527.3" text-anchor="middle" class="ax">δ<tspan font-size="8.2" dy="-4.6">18</tspan><tspan dy="4.6">O (‰)</tspan></text>
<text x="342.5" y="573.4" text-anchor="middle" class="ax">δ<tspan font-size="8.2" dy="-4.6">18</tspan><tspan dy="4.6">O (‰)</tspan></text>
<text x="270.3" y="402.6" text-anchor="middle" class="e r">GMWL: δ<tspan font-size="5" dy="-2.7">2</tspan><tspan dy="2.7">O = 8.02 δ</tspan><tspan font-size="5" dy="-2.7">2</tspan><tspan dy="2.7">H+9.47</tspan></text>
<text x="270.3" y="412.2" text-anchor="middle" class="e">δ<tspan font-size="5" dy="-2.7">2</tspan><tspan dy="2.7">O = 6.92 δ</tspan><tspan font-size="5" dy="-2.7">2</tspan><tspan dy="2.7">H + 2.69</tspan></text>
<text x="270.3" y="421" text-anchor="middle" class="e">R<tspan font-size="5" dy="-2.7">2</tspan><tspan dy="2.7"> = 0.79</tspan></text>
<circle cx="429" cy="476.8" r="2.4" fill="none" stroke="#111" stroke-width="1.6"/>
<line x1="424.9" y1="487.4" x2="435.5" y2="487.4" stroke="#111" stroke-width="1.3"/>
<line x1="424.9" y1="499.4" x2="435.5" y2="499.4" stroke="#999" stroke-width="0.8"/>
<line x1="424.9" y1="511.6" x2="435.5" y2="511.6" stroke="#dc2428" stroke-width="1.3"/>
<text x="437.3" y="477.7" class="l">Wells</text>
<text x="436.8" y="490" class="l">Linear (LMWL)</text>
<text x="436.8" y="502" class="l">Linear (LMWL)</text>
<text x="436.8" y="514.2" class="l">Linear (GMWL)</text>
</svg></body></html>
